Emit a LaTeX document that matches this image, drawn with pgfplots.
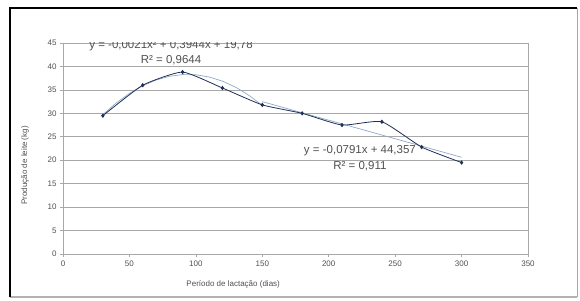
\documentclass[border=0pt]{standalone}
\usepackage{pgfplots}
\pgfplotsset{compat=1.18}
\usepackage{fontspec}
\setmainfont{Liberation Sans}
\definecolor{navy}{HTML}{1F3055}
\definecolor{trend}{HTML}{8FA8C8}
\definecolor{gridc}{HTML}{A8A8A8}
\definecolor{txt}{HTML}{505050}
\begin{document}
\begin{tikzpicture}
\begin{axis}[
  name=ax,
  scale only axis,
  width=465pt, height=211pt,
  xmin=0, xmax=350, ymin=0, ymax=45,
  xtick={0,50,...,350}, ytick={0,5,...,45},
  ymajorgrids, grid style={gridc, line width=0.6pt},
  axis line style={gridc, line width=0.6pt},
  tick style={gridc, line width=0.6pt},
  tick align=outside, major tick length=3pt,
  xtick pos=bottom, ytick pos=left,
  tick label style={font=\fontsize{8}{9}\selectfont, text=txt},
  /pgf/number format/assume math mode=true,
  xlabel={Período de lactação (dias)},
  ylabel={Produção de leite (kg)},
  label style={font=\fontsize{8}{9}\selectfont, text=txt},
  xlabel style={at={(axis description cs:0.366,0)}, anchor=center, yshift=-30pt},
  ylabel style={at={(axis description cs:-0.0817,0.42)}, anchor=center},
]
\addplot[trend, line width=0.7pt] coordinates {
 (30,29.722) (40,32.196) (50,34.25) (60,35.884) (70,37.098) (80,37.892) (90,38.266)
 (100,38.22) (110,37.754) (120,36.868) (130,35.562) (140,33.836) (150,31.69)};
\addplot[trend, line width=0.7pt] coordinates {(150,32.492) (300,20.627)};
\addplot[navy, line width=0.8pt, mark=diamond*, mark size=1.6pt, smooth, tension=0.3] coordinates {
 (30,29.5) (60,36.0) (90,38.8) (120,35.4) (150,31.8) (180,30.0) (210,27.5) (240,28.2) (270,22.8) (300,19.5)};
\node[font=\fontsize{11.5}{15}\selectfont, text=txt, align=center] at (axis cs:81.3,43.0) {y = -0,0021x² + 0,3944x + 19,78\\R² = 0,9644};
\node[font=\fontsize{11.5}{16}\selectfont, text=txt, align=center] at (axis cs:223.5,20.5) {y = -0,0791x + 44,357\\R² = 0,911};
\end{axis}
\path ([shift={(-63pt,-46pt)}]ax.south west) rectangle ([shift={(52pt,43pt)}]ax.north east);
\draw[gray!70, line width=0.6pt] ([shift={(49pt,-43pt)}]ax.south east) -- ([shift={(49pt,35pt)}]ax.north east);
\draw[gray!60, line width=2pt] ([shift={(-53pt,-43pt)}]ax.south west) -- ([shift={(49pt,-43pt)}]ax.south east);
\draw[black, line width=1.5pt] ([shift={(-53pt,-43pt)}]ax.south west) -- ([shift={(-53pt,35pt)}]ax.north west) -- ([shift={(49pt,35pt)}]ax.north east);
\end{tikzpicture}
\end{document}
